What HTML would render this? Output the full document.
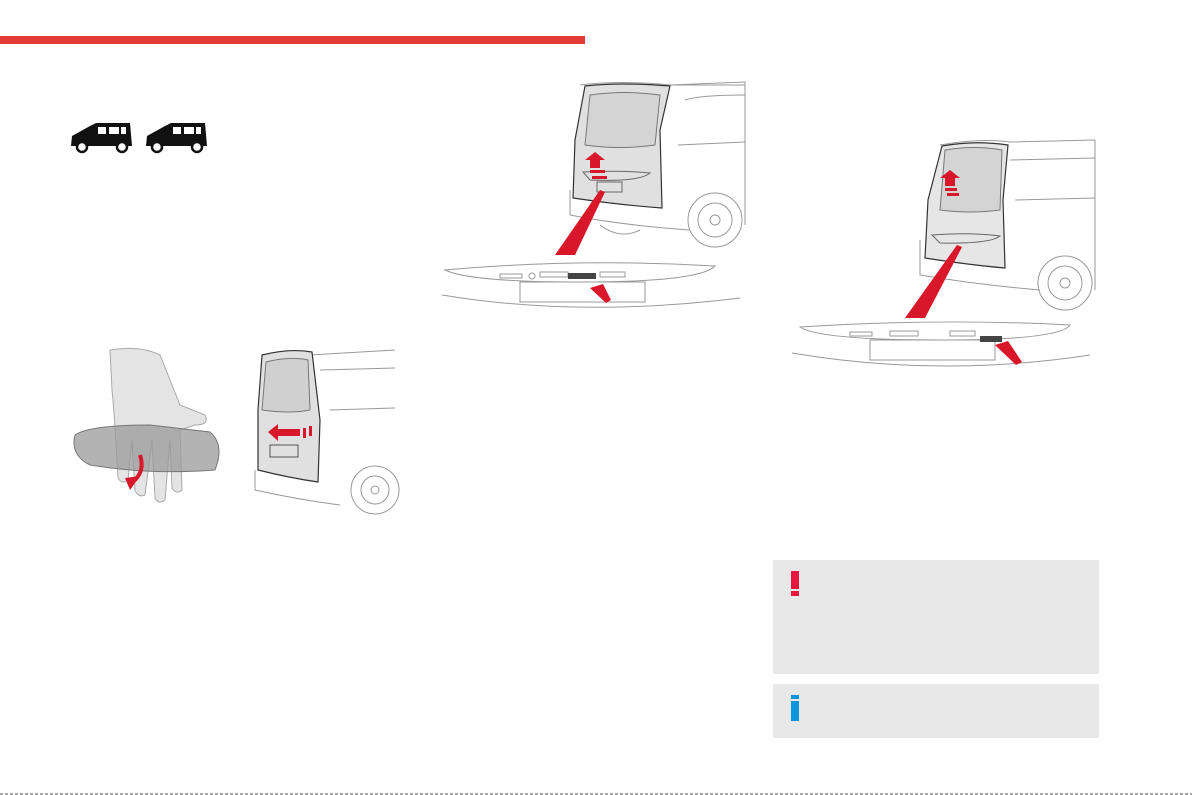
<!DOCTYPE html>
<html><head><meta charset="utf-8"><style>
html,body{margin:0;padding:0;background:#fff;}
body{width:1192px;height:795px;position:relative;overflow:hidden;font-family:"Liberation Sans",sans-serif;}
.bar{position:absolute;left:0;top:36px;width:585px;height:8px;background:#e53935;}
.box{position:absolute;left:773px;width:326px;background:#e8e8e8;}
svg{position:absolute;left:0;top:0;}
</style></head><body>
<div class="bar"></div>
<div class="box" style="top:560px;height:114px;"></div>
<div class="box" style="top:684px;height:54px;"></div>
<div style="position:absolute;left:791px;top:571px;width:8px;height:18px;background:#e8173f;"></div>
<div style="position:absolute;left:791px;top:591px;width:8px;height:5px;background:#e8173f;"></div>
<div style="position:absolute;left:791px;top:695px;width:8px;height:4px;background:#0b96dc;"></div>
<div style="position:absolute;left:791px;top:701px;width:8px;height:20px;background:#0b96dc;"></div>
<svg width="1192" height="795" viewBox="0 0 1192 795">
<!-- van icons -->
<g fill="#111">
<path d="M71 146 L72 136 L90 126 L96 123 L130 123 L132 146 Z"/>
<path d="M146 146 L147 136 L165 126 L171 123 L205 123 L207 146 Z"/>
</g>
<g fill="#fff" stroke="#111" stroke-width="2.5">
<circle cx="82" cy="147" r="5"/><circle cx="122" cy="147" r="5"/>
<circle cx="157" cy="147" r="5"/><circle cx="197" cy="147" r="5"/>
</g>
<g fill="#fff"><rect x="98" y="127" width="8" height="7"/><rect x="109" y="127" width="10" height="7"/><rect x="121" y="127" width="5" height="7"/>
<rect x="173" y="127" width="8" height="7"/><rect x="184" y="127" width="10" height="7"/><rect x="196" y="127" width="5" height="7"/></g>

<!-- middle illustration -->
<g fill="none" stroke="#999" stroke-width="1">
<path d="M580 85 Q620 80 670 85 L745 85"/>
<path d="M670 85 L745 82 L745 225"/>
<path d="M685 100 Q700 95 745 95"/>
<path d="M678 145 L745 142"/>
<path d="M570 190 L570 215 Q620 225 690 230"/>
<circle cx="715" cy="220" r="27"/><circle cx="715" cy="220" r="17"/><circle cx="715" cy="220" r="5"/>
<path d="M600 225 Q620 240 640 230"/>
<path d="M445 270 Q580 258 715 266 Q700 282 580 282 Q470 282 445 270 Z"/>
<rect x="520" y="282" width="125" height="20"/>
<path d="M442 295 Q580 318 740 298"/>
<rect x="500" y="274" width="22" height="4"/><rect x="540" y="272" width="28" height="5"/><rect x="600" y="272" width="25" height="5"/>
<circle cx="532" cy="276" r="3"/>
</g>
<path d="M585 86 Q620 82 670 86 L660 130 L662 208 Q620 205 573 198 L575 140 Z" fill="#e0e0e0" stroke="#333" stroke-width="1.2"/>
<path d="M590 95 Q625 90 660 95 L655 145 Q620 150 585 145 Z" fill="#d4d4d4" stroke="#777"/>
<path d="M583 172 Q620 170 650 173 Q640 182 590 180 Z" fill="none" stroke="#666"/>
<rect x="597" y="182" width="25" height="10" fill="none" stroke="#666"/>
<rect x="568" y="273" width="28" height="6" fill="#444"/>
<polygon points="555,255 575,255 605,192 600,190" fill="#d8172a"/>
<polygon points="585,160 595,152 605,160 600,160 600,168 590,168 590,160" fill="#d8172a"/>
<rect x="590" y="170" width="15" height="3" fill="#d8172a"/><rect x="592" y="176" width="15" height="3" fill="#d8172a"/>
<polygon points="590,288 603,284 611,300 606,303" fill="#d8172a"/>

<!-- right illustration -->
<g fill="none" stroke="#999" stroke-width="1">
<path d="M940 145 Q980 138 1010 142 L1095 140 L1095 290"/>
<path d="M1010 160 L1095 158"/><path d="M1015 200 L1095 198"/>
<path d="M920 240 L920 275 Q980 285 1040 290"/>
<circle cx="1065" cy="283" r="27"/><circle cx="1065" cy="283" r="17"/><circle cx="1065" cy="283" r="5"/>
<path d="M800 327 Q940 318 1070 325 Q1060 340 940 340 Q820 340 800 327 Z"/>
<rect x="870" y="340" width="125" height="20"/>
<path d="M792 353 Q940 378 1090 355"/>
<rect x="850" y="332" width="22" height="4"/><rect x="890" y="331" width="28" height="5"/><rect x="950" y="331" width="25" height="5"/>
</g>
<path d="M942 146 Q975 140 1008 145 L1003 200 L1005 268 Q970 265 925 258 L928 200 Z" fill="#e6e6e6" stroke="#333" stroke-width="1.2"/>
<path d="M945 150 Q975 145 1002 150 L1000 210 Q970 214 940 210 Z" fill="#d4d4d4" stroke="#777"/>
<path d="M932 235 Q970 232 1000 236 Q990 244 940 243 Z" fill="none" stroke="#666"/>
<rect x="980" y="336" width="22" height="6" fill="#444"/>
<polygon points="905,318 925,318 962,247 957,245" fill="#d8172a"/>
<polygon points="940,178 950,170 960,178 955,178 955,186 945,186 945,178" fill="#d8172a"/>
<rect x="945" y="188" width="12" height="3" fill="#d8172a"/><rect x="947" y="193" width="12" height="3" fill="#d8172a"/>
<polygon points="995,345 1008,341 1022,362 1016,365" fill="#d8172a"/>

<!-- left: hand -->
<path d="M110 350 Q140 345 160 355 Q170 380 180 405 L205 415 Q210 425 195 425 L180 430 L182 490 Q176 495 172 488 L170 440 L165 500 Q158 505 155 498 L152 440 L145 495 Q138 498 135 490 L132 440 L128 480 Q122 485 118 478 Q115 420 112 390 Z" fill="#e4e4e4" stroke="#aaa"/>
<path d="M75 435 Q90 425 150 425 L210 432 Q225 445 215 470 Q150 475 90 465 Q70 455 75 435 Z" fill="#9a9a9a" fill-opacity="0.75" stroke="#777"/>
<path d="M140 455 Q145 470 135 480" stroke="#d8172a" stroke-width="4" fill="none"/>
<polygon points="125,478 140,476 130,490" fill="#d8172a"/>
<!-- left: van -->
<g fill="none" stroke="#999" stroke-width="1">
<path d="M310 355 L395 350 M320 370 L395 368 M330 410 L395 408 M255 470 L255 490 Q300 500 340 505"/>
<circle cx="375" cy="490" r="24"/><circle cx="375" cy="490" r="14"/><circle cx="375" cy="490" r="4"/>
</g>
<path d="M262 355 Q290 348 312 352 L320 420 L318 482 Q290 478 258 470 L258 410 Z" fill="#e0e0e0" stroke="#333" stroke-width="1.2"/>
<path d="M266 362 Q290 356 308 360 L310 410 Q290 414 262 410 Z" fill="#d0d0d0" stroke="#777"/>
<rect x="270" y="445" width="28" height="12" fill="none" stroke="#555"/>
<polygon points="268,432 278,424 278,429 300,429 300,436 278,436 278,441" fill="#d8172a"/>
<rect x="303" y="428" width="3" height="10" fill="#d8172a"/><rect x="309" y="426" width="3" height="10" fill="#d8172a"/>
<!-- dotted bottom -->
<line x1="0" y1="794" x2="1192" y2="794" stroke="#888" stroke-width="1.5" stroke-dasharray="3,2"/>
</svg>
</body></html>
